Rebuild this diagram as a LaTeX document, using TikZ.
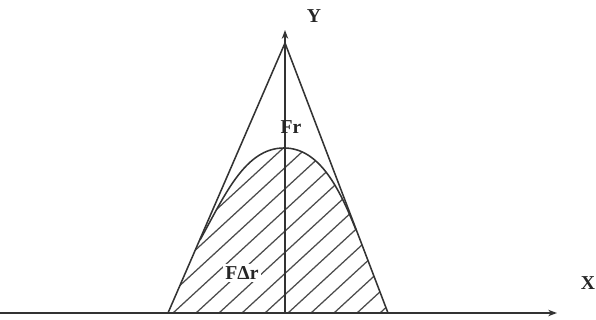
\documentclass[tikz,border=0pt]{standalone}
\usepackage{fontspec}
\setmainfont{Liberation Serif}
\usetikzlibrary{arrows.meta,positioning,calc}

\begin{document}
\begin{tikzpicture}[x=0.025cm,y=0.025cm,
    axis/.style={draw=black!80,line width=1.1pt,-{Stealth[length=2.2mm,width=1.6mm]}},
    edge/.style={draw=black!80,line width=1.1pt},
    hatch/.style={draw=black!70,line width=0.9pt},
    lbl/.style={font=\fontsize{14}{17}\selectfont\bfseries,text=black!85,inner sep=1pt}]
    \useasboundingbox (0,0) rectangle (596,320);

    % Points
    \coordinate (O) at (285,7);
    \coordinate (xend) at (557,7);
    \coordinate (xstart) at (0,7);
    \coordinate (yend) at (285,290);
    \coordinate (L) at (168,7);
    \coordinate (T) at (285,277);
    \coordinate (R) at (388,7);
    \coordinate (P1) at (200,80);
    \coordinate (top) at (284,172);
    \coordinate (P2) at (356,90);

    % Hatched area
    \begin{scope}
        \clip (L) -- (P1) .. controls (225,125) and (245,172) .. (top)
              .. controls (320,172) and (340,130) .. (P2) -- (R) -- cycle;
        \foreach \x in {35,58,...,410}
            \draw[hatch] (\x-50,-39) -- ++(400,368);
    \end{scope}

    % Curve
    \draw[edge] (P1) .. controls (225,125) and (245,172) .. (top)
          .. controls (320,172) and (340,130) .. (P2);

    % Triangle
    \draw[edge] (L) -- (T) -- (R);

    % Draw axes
    \draw[axis] (xstart) -- (xend);
    \draw[axis] (O) -- (yend);

    % Labels
    \node[lbl] (xl) at (588,37) {X};
    \node[lbl] (yl) at (314,304) {Y};
    \node[lbl] (fr) at (291,193) {Fr};
    \node[lbl,fill=white,inner sep=2pt] (fdr) at (242,47) {FΔr};
\end{tikzpicture}
\end{document}
